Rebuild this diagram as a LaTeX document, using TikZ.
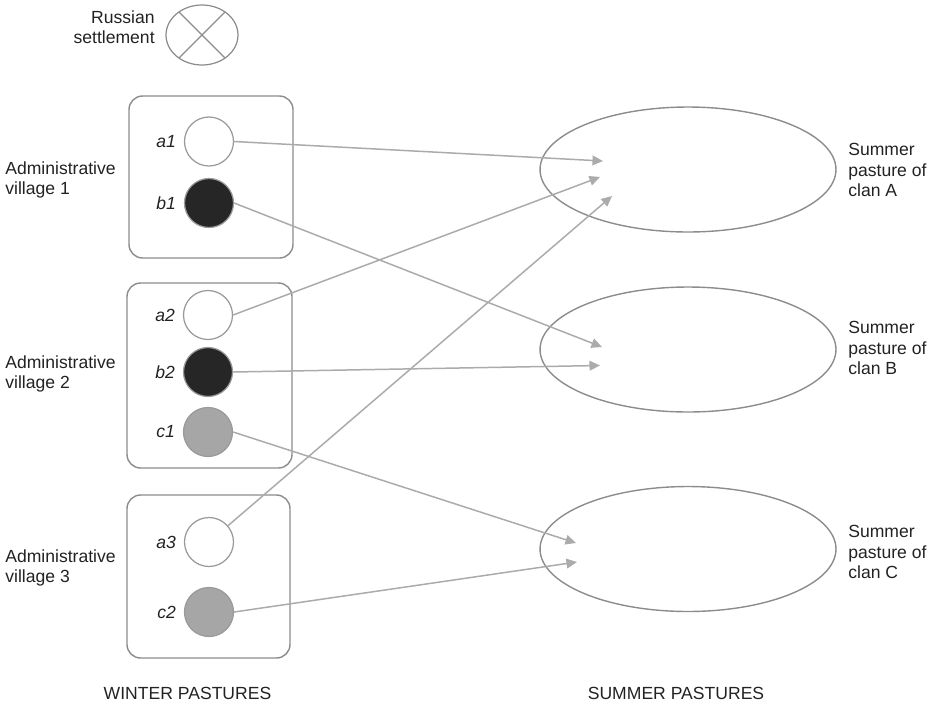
\documentclass[tikz,border=0pt]{standalone}
\usepackage{fontspec}
\setmainfont{Liberation Sans}
\usetikzlibrary{arrows.meta,shapes.geometric}
\definecolor{boxgray}{HTML}{8C8C8C}
\definecolor{ringgray}{HTML}{9A9A9A}
\definecolor{linkgray}{HTML}{ABABAB}
\definecolor{darkherd}{HTML}{262626}
\definecolor{midherd}{HTML}{A6A6A6}
\definecolor{inkgray}{HTML}{222222}

\begin{document}
\begin{tikzpicture}[x=0.02cm, y=-0.02cm, font=\fontsize{10}{11.7}\selectfont, text=inkgray,
	txt/.style={inner sep=0pt, align=left},
	village/.style={rectangle, draw=boxgray, line width=0.8pt, rounded corners=0.27cm},
	herd/.style={circle, draw=ringgray, line width=0.7pt, minimum size=0.98cm, inner sep=0pt,
		label={[label distance=1pt, font=\fontsize{10}{11.7}\selectfont\itshape]left:#1}},
	pasture/.style={ellipse, draw=boxgray, line width=0.8pt, minimum width=5.92cm, minimum height=2.5cm, inner sep=0pt},
	move/.style={draw=linkgray, line width=0.85pt, -{Triangle[length=6pt, width=5.5pt]}}]
	\useasboundingbox (0, 0) rectangle (932, 704);

	\node[ellipse, draw=boxgray, line width=0.7pt, minimum width=1.44cm, minimum height=1.2cm, inner sep=0pt, outer sep=0pt] (rs) at (202, 35) {};
	\draw[boxgray, line width=0.7pt] (rs.45) -- (rs.225) (rs.135) -- (rs.-45);
	\node[txt, align=right, anchor=east] (rslabel) at (155, 27) {Russian\\settlement};

	\node[village, minimum width=3.28cm, minimum height=3.24cm] (v1) at (211, 177) {};
	\node[village, minimum width=3.3cm, minimum height=3.7cm] (v2) at (209.5, 375.5) {};
	\node[village, minimum width=3.26cm, minimum height=3.26cm] (v3) at (208.5, 576.5) {};

	\node[txt, anchor=west] (v1label) at (5, 180) {Administrative\\village 1};
	\node[txt, anchor=west] (v2label) at (5, 374) {Administrative\\village 2};
	\node[txt, anchor=west] (v3label) at (5, 568) {Administrative\\village 3};

	\node[herd=a1, fill=white] (a1) at (209, 141.5) {};
	\node[herd=b1, fill=darkherd] (b1) at (209, 203) {};
	\node[herd=a2, fill=white] (a2) at (208, 315) {};
	\node[herd=b2, fill=darkherd] (b2) at (208, 372) {};
	\node[herd=c1, fill=midherd] (c1) at (208, 432) {};
	\node[herd=a3, fill=white] (a3) at (209, 542) {};
	\node[herd=c2, fill=midherd] (c2) at (209, 612) {};

	\node[pasture] (pA) at (688, 169.5) {};
	\node[pasture] (pB) at (688, 349.5) {};
	\node[pasture] (pC) at (688, 549) {};

	\node[txt, anchor=west] (pAlabel) at (848, 170) {Summer\\pasture of\\clan A};
	\node[txt, anchor=west] (pBlabel) at (848, 348) {Summer\\pasture of\\clan B};
	\node[txt, anchor=west] (pClabel) at (848, 552) {Summer\\pasture of\\clan C};

	\coordinate (tA1) at (603, 161);
	\coordinate (tA2) at (600, 177);
	\coordinate (tA3) at (612, 196);
	\coordinate (tB1) at (602, 347);
	\coordinate (tB2) at (600, 365.5);
	\coordinate (tC1) at (576, 543);
	\coordinate (tC2) at (577, 562);

	\draw[move] (a1.east) -- (tA1);
	\draw[move] (b1.east) -- (tB1);
	\draw[move] (a2.east) -- (tA2);
	\draw[move] (b2.east) -- (tB2);
	\draw[move] (c1.east) -- (tC1);
	\draw[move] (a3) -- (tA3);
	\draw[move] (c2.east) -- (tC2);

	\node[txt] (winter) at (187.5, 693) {WINTER PASTURES};
	\node[txt] (summer) at (676, 693) {SUMMER PASTURES};
\end{tikzpicture}
\end{document}
